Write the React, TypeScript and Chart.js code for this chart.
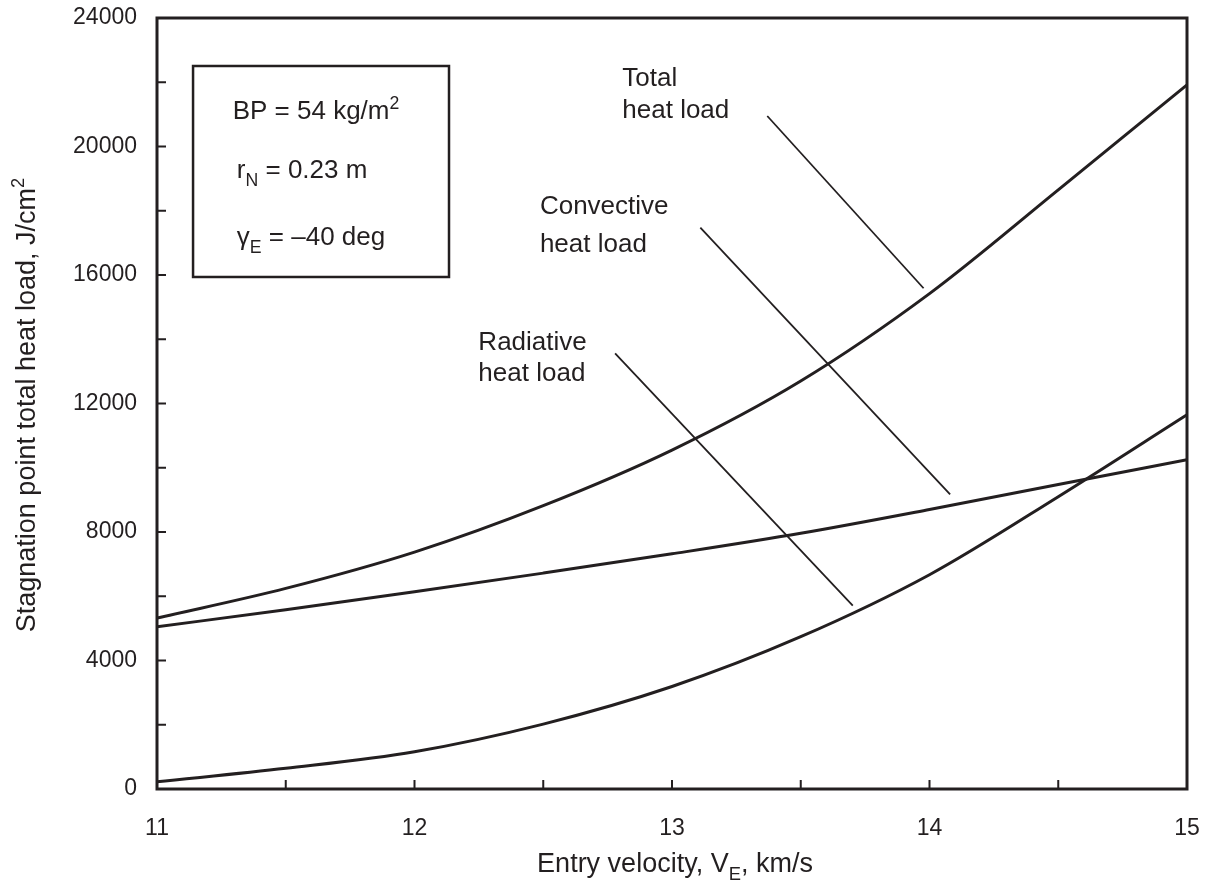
import React, { useEffect, useRef } from 'react';
import { Chart, registerables } from 'chart.js';

Chart.register(...registerables);

const INK = '#231f20';
const FONT = "'Liberation Sans', Arial, Helvetica, sans-serif";

// ---- data ----
const VELOCITY = [11, 11.5, 12, 12.5, 13, 13.5, 14, 14.5, 15];
const TOTAL = [5320, 6245, 7375, 8820, 10550, 12700, 15420, 18650, 21920];
const CONVECTIVE = [5050, 5580, 6140, 6720, 7320, 7960, 8700, 9480, 10250];
const RADIATIVE = [225, 645, 1160, 2020, 3190, 4740, 6670, 9100, 11650];

// leader lines (data coordinates)
const TOTAL_LEADER_X = [13.37, 13.977];
const TOTAL_LEADER_Y = [20950, 15587];
const CONV_LEADER_X = [13.11, 14.08];
const CONV_LEADER_Y = [17474, 9174];
const RAD_LEADER_X = [12.779, 13.702];
const RAD_LEADER_Y = [13563, 5706];

// tick labels
const X_TICKS = [11, 12, 13, 14, 15];
const X_TICK_LABELS = ['11', '12', '13', '14', '15'];
const Y_TICKS = [0, 4000, 8000, 12000, 16000, 20000, 24000];
const Y_TICK_LABELS = ['0', '4000', '8000', '12000', '16000', '20000', '24000'];

const X_TITLE = [{ t: 'Entry velocity, V' }, { t: 'E', sub: true }, { t: ', km/s' }];
const Y_TITLE = [{ t: 'Stagnation point total heat load, J/cm' }, { t: '2', sup: true }];

type Part = { t: string; sub?: boolean; sup?: boolean };

// annotation layout (data coordinates)
const BOX = { x0: 11.14, x1: 12.134, y0: 22506, y1: 15938 };
const NOTES: { parts: Part[]; x: number; y: number }[] = [
  { parts: [{ t: 'BP = 54 kg/m' }, { t: '2', sup: true }], x: 11.294, y: 20847 },
  { parts: [{ t: 'r' }, { t: 'N', sub: true }, { t: ' = 0.23 m' }], x: 11.31, y: 19019 },
  { parts: [{ t: 'γ' }, { t: 'E', sub: true }, { t: ' = –40 deg' }], x: 11.31, y: 16934 },
  { parts: [{ t: 'Total' }], x: 12.807, y: 21883 },
  { parts: [{ t: 'heat load' }], x: 12.807, y: 20887 },
  { parts: [{ t: 'Convective' }], x: 12.487, y: 17898 },
  { parts: [{ t: 'heat load' }], x: 12.487, y: 16716 },
  { parts: [{ t: 'Radiative' }], x: 12.248, y: 13665 },
  { parts: [{ t: 'heat load' }], x: 12.248, y: 12685 },
];

function drawRich(ctx: CanvasRenderingContext2D, parts: Part[], x: number, y: number, size: number, center = false) {
  const small = size * 0.68;
  const widths = parts.map((p) => {
    ctx.font = `${p.sub || p.sup ? small : size}px ${FONT}`;
    return ctx.measureText(p.t).width;
  });
  const total = widths.reduce((a, b) => a + b, 0);
  let cx = center ? x - total / 2 : x;
  parts.forEach((p, i) => {
    ctx.font = `${p.sub || p.sup ? small : size}px ${FONT}`;
    const dy = p.sub ? size * 0.3 : p.sup ? -size * 0.4 : 0;
    ctx.fillText(p.t, cx, y + dy);
    cx += widths[i];
  });
}

const decorPlugin = {
  id: 'decor',
  afterDatasetsDraw(chart: any) {
    const { ctx, chartArea: a, scales } = chart;
    const xs = scales.x;
    const ys = scales.y;
    ctx.save();
    ctx.strokeStyle = INK;
    ctx.fillStyle = INK;
    ctx.lineCap = 'butt';

    // frame
    ctx.lineWidth = 3;
    ctx.strokeRect(a.left, a.top, a.right - a.left, a.bottom - a.top);

    // inward tick marks
    ctx.lineWidth = 2;
    ctx.beginPath();
    xs.ticks.forEach((t: any) => {
      const px = xs.getPixelForValue(t.value);
      if (px <= a.left + 2 || px >= a.right - 2) return;
      ctx.moveTo(px, a.bottom);
      ctx.lineTo(px, a.bottom - 9);
    });
    ys.ticks.forEach((t: any) => {
      const py = ys.getPixelForValue(t.value);
      if (py <= a.top + 2 || py >= a.bottom - 2) return;
      ctx.moveTo(a.left, py);
      ctx.lineTo(a.left + 9, py);
    });
    ctx.stroke();

    // parameter box
    ctx.lineWidth = 2.5;
    const bx0 = xs.getPixelForValue(BOX.x0);
    const bx1 = xs.getPixelForValue(BOX.x1);
    const by0 = ys.getPixelForValue(BOX.y0);
    const by1 = ys.getPixelForValue(BOX.y1);
    ctx.strokeRect(bx0, by0, bx1 - bx0, by1 - by0);

    // annotation texts
    ctx.textBaseline = 'alphabetic';
    ctx.textAlign = 'left';
    NOTES.forEach((n) => {
      drawRich(ctx, n.parts, xs.getPixelForValue(n.x), ys.getPixelForValue(n.y), 26);
    });

    // axis titles
    drawRich(ctx, X_TITLE, 675, 872, 27, true);
    ctx.save();
    ctx.translate(35, 405);
    ctx.rotate(-Math.PI / 2);
    drawRich(ctx, Y_TITLE, 0, 0, 27, true);
    ctx.restore();

    ctx.restore();
  },
};

function curve(data: number[], label: string) {
  return {
    label,
    data: VELOCITY.map((v, i) => ({ x: v, y: data[i] })),
    borderColor: INK,
    borderWidth: 3,
    pointRadius: 0,
    fill: false,
    cubicInterpolationMode: 'monotone' as const,
  };
}

function leader(xsArr: number[], ysArr: number[], label: string) {
  return {
    label,
    data: xsArr.map((v, i) => ({ x: v, y: ysArr[i] })),
    borderColor: INK,
    borderWidth: 1.8,
    pointRadius: 0,
    fill: false,
  };
}

export default function App() {
  const ref = useRef<HTMLCanvasElement | null>(null);

  useEffect(() => {
    if (!ref.current) return;
    const chart = new Chart(ref.current, {
      type: 'line',
      data: {
        datasets: [
          curve(TOTAL, 'Total heat load'),
          curve(CONVECTIVE, 'Convective heat load'),
          curve(RADIATIVE, 'Radiative heat load'),
          leader(TOTAL_LEADER_X, TOTAL_LEADER_Y, 'Total leader'),
          leader(CONV_LEADER_X, CONV_LEADER_Y, 'Convective leader'),
          leader(RAD_LEADER_X, RAD_LEADER_Y, 'Radiative leader'),
        ] as any,
      },
      options: {
        responsive: false,
        animation: false,
        layout: { padding: { top: 18, right: 27, left: 0, bottom: 0 } },
        plugins: { legend: { display: false }, tooltip: { enabled: false } },
        elements: { point: { radius: 0 } },
        scales: {
          x: {
            type: 'linear',
            min: 11,
            max: 15,
            grid: { display: false, drawTicks: false },
            border: { display: false },
            ticks: {
              stepSize: 0.5,
              autoSkip: false,
              maxRotation: 0,
              padding: 26,
              color: INK,
              font: { family: FONT, size: 23 },
              callback: (v: any) => {
                const i = X_TICKS.indexOf(Number(v));
                return i >= 0 ? X_TICK_LABELS[i] : '';
              },
            },
            afterFit: (s: any) => {
              s.height = 92;
              s.paddingLeft = 0;
              s.paddingRight = 0;
              s.paddingTop = 0;
              s.paddingBottom = 0;
            },
          },
          y: {
            type: 'linear',
            min: 0,
            max: 24000,
            grid: { display: false, drawTicks: false },
            border: { display: false },
            ticks: {
              stepSize: 2000,
              autoSkip: false,
              padding: 20,
              color: INK,
              font: { family: FONT, size: 23 },
              callback: (v: any) => {
                const i = Y_TICKS.indexOf(Number(v));
                return i >= 0 ? Y_TICK_LABELS[i] : '';
              },
            },
            afterFit: (s: any) => {
              s.width = 157;
              s.paddingLeft = 0;
              s.paddingRight = 0;
              s.paddingTop = 0;
              s.paddingBottom = 0;
            },
          },
        },
      } as any,
      plugins: [decorPlugin],
    });
    return () => chart.destroy();
  }, []);

  return (
    <div style={{ position: 'fixed', left: 0, top: 0, width: 1214, height: 881, background: '#fff' }}>
      <canvas ref={ref} width={1214} height={881} style={{ display: 'block' }} />
    </div>
  );
}
